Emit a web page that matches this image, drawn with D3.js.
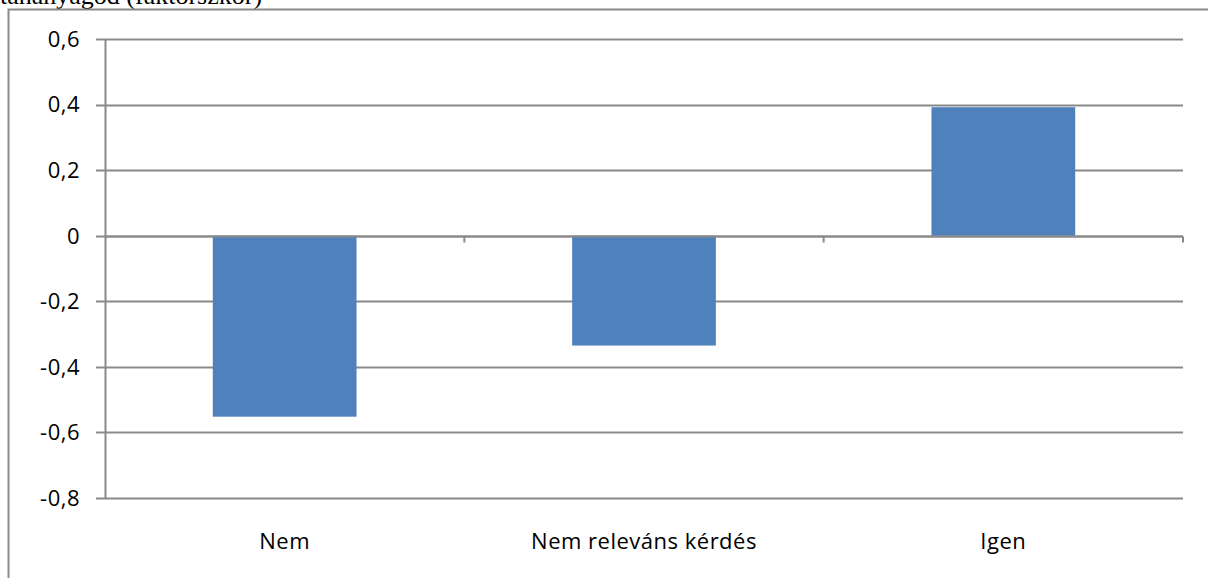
<!DOCTYPE html>
<html><head><meta charset="utf-8">
<script src="https://cdn.jsdelivr.net/npm/d3@7"></script>
<style>html,body{margin:0;padding:0;background:#fff;overflow:hidden}</style>
</head><body>
<svg id="c" width="1208" height="578"></svg>
<script>
const categories = ["Nem", "Nem releváns kérdés", "Igen"];
const values = [-0.552, -0.335, 0.392];
const yTicks = [-0.8, -0.6, -0.4, -0.2, 0, 0.2, 0.4, 0.6];
const titleText = "tananyagod (faktorszkor)";

(function () {
const svg = d3.select("#c");
const pL = 105, pR = 1183, pT = 39, pB = 498;
const y = d3.scaleLinear().domain([-0.8, 0.6]).range([pB, pT]);
const x = d3.scaleBand().domain(categories).range([pL, pR]).paddingInner(0.6).paddingOuter(0.3);
const xb = d3.scaleBand().domain(categories).range([pL, pR]);
const grey = "#898989";

// cropped title
svg.append("text").attr("x", 0).attr("y", 4)
  .attr("font-family", "Liberation Serif, Times New Roman, serif")
  .attr("font-size", 26).attr("fill", "#000").text(titleText);

// outer frame
svg.append("path").attr("d", "M8.5,578 L8.5,9.5 L1208,9.5")
  .attr("fill", "none").attr("stroke", grey).attr("stroke-width", 2);

// gridlines
svg.append("g").selectAll("line").data(yTicks).join("line")
  .attr("x1", pL - 9).attr("x2", pR)
  .attr("y1", d => Math.round(y(d)) + 0.5).attr("y2", d => Math.round(y(d)) + 0.5)
  .attr("stroke", grey).attr("stroke-width", 2);

// y labels
const fmt = d => d === 0 ? "0" : d3.format(".1f")(d).replace(".", ",").replace("−", "-");
svg.append("g").selectAll("text").data(yTicks).join("text")
  .attr("x", 80).attr("y", d => y(d)).attr("dy", "0.36em")
  .attr("text-anchor", "end")
  .attr("font-family", "Open Sans, Noto Sans, sans-serif").attr("font-size", 22)
  .attr("letter-spacing", 0.5)
  .attr("fill", "#000").text(fmt);

// bars
svg.append("g").selectAll("rect").data(values).join("rect")
  .attr("x", (d, i) => x(categories[i]))
  .attr("width", x.bandwidth())
  .attr("y", d => y(Math.max(0, d)))
  .attr("height", d => Math.abs(y(d) - y(0)))
  .attr("fill", "#4f81bd");

// y axis line
svg.append("line").attr("x1", pL + 0.5).attr("x2", pL + 0.5)
  .attr("y1", pT).attr("y2", pB + 1)
  .attr("stroke", grey).attr("stroke-width", 2);

// x axis at zero
const y0 = Math.round(y(0)) + 0.5;
svg.append("line").attr("x1", pL).attr("x2", pR).attr("y1", y0).attr("y2", y0)
  .attr("stroke", grey).attr("stroke-width", 2);
svg.append("g").selectAll("line").data(categories).join("line")
  .attr("x1", (d, i) => pL + xb.step() * (i + 1))
  .attr("x2", (d, i) => pL + xb.step() * (i + 1))
  .attr("y1", y0).attr("y2", y0 + 6)
  .attr("stroke", grey).attr("stroke-width", 2);

// category labels
svg.append("g").selectAll("text").data(categories).join("text")
  .attr("x", d => xb(d) + xb.bandwidth() / 2).attr("y", 549)
  .attr("text-anchor", "middle")
  .attr("font-family", "Open Sans, Noto Sans, sans-serif").attr("font-size", 22)
  .attr("letter-spacing", 0.5)
  .attr("fill", "#000").text(d => d);
})();
</script>
</body></html>
